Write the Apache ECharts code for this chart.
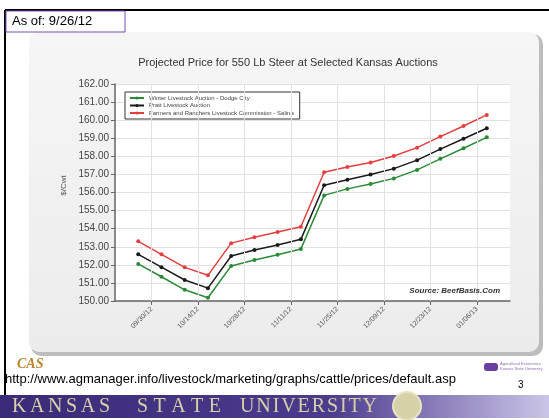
<!DOCTYPE html>
<html>
<head>
<meta charset="utf-8">
<script src="https://cdn.jsdelivr.net/npm/echarts@6/dist/echarts.min.js"></script>
<style>
  html, body { margin: 0; padding: 0; background: #fff; }
  #chart { width: 549px; height: 420px; }
</style>
</head>
<body>
<div id="chart"></div>
<script>
// Weekly sale dates and projected prices ($/cwt) for a 550 lb steer
const weekDates = [
  '2012-09-26', '2012-10-03', '2012-10-10', '2012-10-17', '2012-10-24', '2012-10-31',
  '2012-11-07', '2012-11-14', '2012-11-21', '2012-11-28', '2012-12-05', '2012-12-12',
  '2012-12-19', '2012-12-26', '2013-01-02', '2013-01-09'
];
const dodgeCity = [152.05, 151.34, 150.62, 150.18, 151.94, 152.27, 152.56, 152.88,
  155.84, 156.20, 156.47, 156.78, 157.25, 157.86, 158.45, 159.05];
const pratt = [152.58, 151.87, 151.16, 150.71, 152.49, 152.82, 153.10, 153.41,
  156.40, 156.70, 156.99, 157.32, 157.79, 158.40, 158.97, 159.55];
const salina = [153.30, 152.58, 151.86, 151.42, 153.20, 153.53, 153.81, 154.11,
  157.12, 157.41, 157.66, 158.02, 158.48, 159.09, 159.68, 160.29];
const seriesNames = [
  'Winter Livestock Auction - Dodge City',
  'Pratt Livestock Auction',
  'Farmers and Ranchers Livestock Commission - Salina'
];
const tickDates = ['2012-09-30', '2012-10-14', '2012-10-28', '2012-11-11',
  '2012-11-25', '2012-12-09', '2012-12-23', '2013-01-06'];
const axisStart = '2012-09-19';
const axisEnd = '2013-01-16';

function utc(s) {
  const p = s.split('-').map(Number);
  return Date.UTC(p[0], p[1] - 1, p[2]);
}
function fmt(v) {
  const d = new Date(v);
  const mm = String(d.getUTCMonth() + 1).padStart(2, '0');
  const dd = String(d.getUTCDate()).padStart(2, '0');
  const yy = String(d.getUTCFullYear()).slice(2);
  return mm + '/' + dd + '/' + yy;
}
const xs = weekDates.map(utc);
const pairs = arr => arr.map((v, i) => [xs[i], v]);
const tickValues = tickDates.map(utc);

const colors = ['#2a8a36', '#1a1a1a', '#e43f3f'];

// Banner lettering: spread each word's letters evenly across its span
const bannerFont = '20px "Liberation Serif", "DejaVu Serif", serif';
const measureCtx = document.createElement('canvas').getContext('2d');
measureCtx.font = bannerFont;
function spacedWord(word, x0, x1, y) {
  const widths = word.split('').map(ch => measureCtx.measureText(ch).width);
  const total = widths.reduce((a, b) => a + b, 0);
  const gap = (x1 - x0 - total) / (word.length - 1);
  let x = x0;
  return word.split('').map((ch, i) => {
    const el = {
      type: 'text', x: x, y: y, z: 7,
      style: { text: ch, font: bannerFont, fill: '#d6cfa8' }
    };
    x += widths[i] + gap;
    return el;
  });
}

const chart = echarts.init(document.getElementById('chart'), null, { renderer: 'canvas' });

function lineSeries(name, data, color) {
  return {
    name: name,
    type: 'line',
    data: pairs(data),
    symbol: 'circle',
    symbolSize: 4,
    showSymbol: true,
    lineStyle: { color: color, width: 1.5 },
    itemStyle: { color: color },
    emphasis: { disabled: true },
    animation: false
  };
}

const series = [
  lineSeries(seriesNames[0], dodgeCity, colors[0]),
  lineSeries(seriesNames[1], pratt, colors[1]),
  lineSeries(seriesNames[2], salina, colors[2])
];
// vertical grid lines at the labelled dates
series[0].markLine = {
  silent: true,
  symbol: 'none',
  label: { show: false },
  lineStyle: { color: '#e2e2e2', width: 1, type: 'solid' },
  data: tickValues.map(v => ({ xAxis: v })),
  animation: false
};

chart.setOption({
  animation: false,
  backgroundColor: '#ffffff',
  graphic: [
    // slide frame
    { type: 'line', shape: { x1: 5, y1: 10, x2: 549, y2: 10 }, style: { stroke: '#000', lineWidth: 2 }, z: 0 },
    { type: 'line', shape: { x1: 5, y1: 10, x2: 5, y2: 396 }, style: { stroke: '#000', lineWidth: 2 }, z: 0 },
    // chart panel
    {
      type: 'rect', shape: { x: 31, y: 34, width: 512, height: 322, r: 10 },
      style: { fill: '#bdbdbd' }, z: -3
    },
    {
      type: 'rect', shape: { x: 29, y: 32, width: 510, height: 320, r: 10 },
      style: {
        fill: new echarts.graphic.LinearGradient(0, 0, 0, 1, [
          { offset: 0, color: '#f6f6f6' }, { offset: 1, color: '#ececec' }
        ])
      }, z: -2
    },
    {
      type: 'rect', shape: { x: 115, y: 84, width: 395, height: 217 },
      style: { fill: '#ffffff' }, z: -1
    },
    // date stamp box
    {
      type: 'rect', shape: { x: 6, y: 11, width: 119, height: 21 },
      style: { fill: '#ffffff', stroke: '#7a4fb0', lineWidth: 1 }, z: 5
    },
    {
      type: 'text', x: 12, y: 15,
      style: { text: 'As of: 9/26/12', font: '13px Arial, "Liberation Sans", sans-serif', fill: '#000' }, z: 6
    },
    // source note
    {
      type: 'text', x: 500, y: 287,
      style: { text: 'Source: BeefBasis.Com', font: 'italic bold 8px Arial, "Liberation Sans", sans-serif', fill: '#333', align: 'right' }, z: 6
    },
    // logos
    {
      type: 'text', x: 17, y: 357,
      style: { text: 'CAS', font: 'bold italic 14px "Liberation Serif", serif', fill: '#b8862b' }, z: 6
    },
    {
      type: 'rect', shape: { x: 484, y: 363, width: 14, height: 8, r: 3 },
      style: { fill: '#6b3fa0' }, z: 6
    },
    {
      type: 'text', x: 500, y: 361,
      style: { text: 'Agricultural Economics\nKansas State University', font: '4px Arial, sans-serif', fill: '#8a6bb8', lineHeight: 5 }, z: 6
    },
    // link line
    {
      type: 'text', x: 5, y: 373,
      style: { text: 'http://www.agmanager.info/livestock/marketing/graphs/cattle/prices/default.asp', font: '13px Arial, "Liberation Sans", sans-serif', fill: '#000' }, z: 6
    },
    {
      type: 'text', x: 518, y: 380,
      style: { text: '3', font: '10px Arial, "Liberation Sans", sans-serif', fill: '#000' }, z: 6
    },
    // university banner
    {
      type: 'rect', shape: { x: 0, y: 395, width: 549, height: 23 },
      style: {
        fill: new echarts.graphic.LinearGradient(0, 0, 1, 0, [
          { offset: 0, color: '#3a2b78' }, { offset: 0.6, color: '#4b3b8d' }, { offset: 1, color: '#cbc5e8' }
        ])
      }, z: 5
    },
    {
      type: 'circle', shape: { cx: 407, cy: 406, r: 14 },
      style: { fill: '#d8d2a8', stroke: '#e9e4c4', lineWidth: 2 }, z: 6
    },
    ...spacedWord('KANSAS', 12, 110, 397),
    ...spacedWord('STATE', 137, 221, 397),
    ...spacedWord('UNIVERSITY', 240, 377, 397)
  ],
  title: {
    text: 'Projected Price for 550 Lb Steer at Selected Kansas Auctions',
    left: 283, top: 52, textAlign: 'center',
    textStyle: { fontSize: 11, fontWeight: 'normal', color: '#333', fontFamily: 'Arial, "Liberation Sans", sans-serif' }
  },
  legend: {
    orient: 'vertical',
    left: 125, top: 92,
    padding: [3, 6, 3, 4],
    itemGap: 1.5,
    itemWidth: 14, itemHeight: 4,
    borderColor: '#333', borderWidth: 1,
    backgroundColor: '#fff',
    textStyle: { fontSize: 6, color: '#444', fontFamily: 'Arial, sans-serif', overflow: 'none' },
    data: seriesNames
  },
  grid: { left: 115, right: 39, top: 84, bottom: 119, containLabel: false },
  xAxis: {
    type: 'value',
    min: utc(axisStart),
    max: utc(axisEnd),
    axisLine: { show: true, lineStyle: { color: '#666', width: 1.5 } },
    axisTick: { show: true, customValues: tickValues, length: 4, lineStyle: { color: '#666' } },
    axisLabel: {
      customValues: tickValues,
      rotate: 45,
      fontSize: 7, color: '#555',
      fontFamily: 'Arial, sans-serif',
      margin: 7,
      formatter: v => fmt(v)
    },
    splitLine: { show: false }
  },
  yAxis: {
    type: 'value',
    min: 150, max: 162, interval: 1,
    name: '$/Cwt',
    nameLocation: 'middle',
    nameGap: 44,
    nameRotate: 90,
    nameTextStyle: { fontSize: 8, color: '#555', fontFamily: 'Arial, sans-serif', padding: [0, 0, 0, 14] },
    axisLine: { show: true, lineStyle: { color: '#666', width: 1.5 } },
    axisTick: { show: true, length: 4, lineStyle: { color: '#666' } },
    axisLabel: { fontSize: 10, color: '#444', fontFamily: 'Arial, sans-serif', formatter: v => v.toFixed(2), margin: 6 },
    splitLine: { show: true, lineStyle: { color: '#e2e2e2' } }
  },
  series: series
});
</script>
</body>
</html>
